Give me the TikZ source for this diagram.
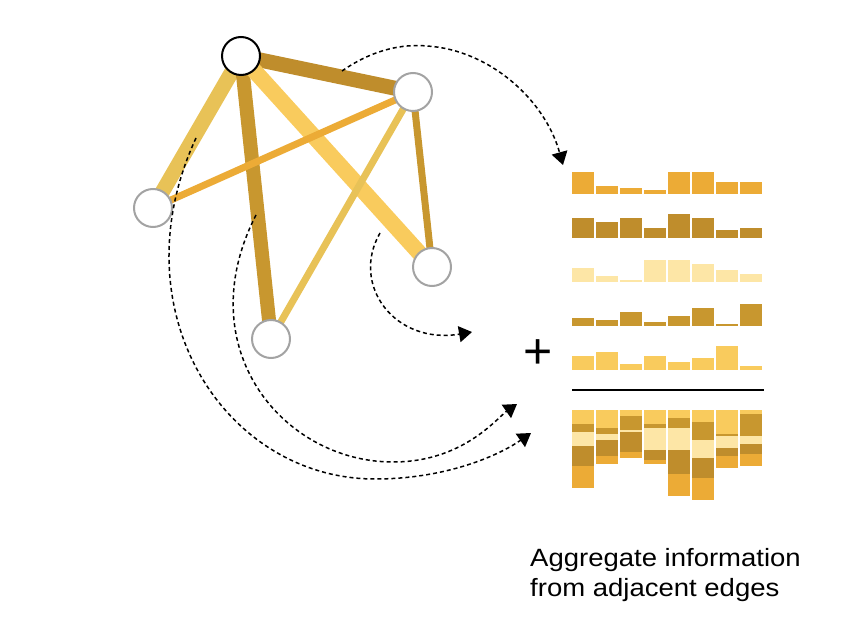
\documentclass[tikz,border=0pt]{standalone}
\usepackage{fontspec}
\setmainfont{Liberation Sans}
\newfontfamily\aggfont[FakeStretch=1.1]{Liberation Sans}
\usepackage{tikz}
\usetikzlibrary{arrows.meta,backgrounds}
\definecolor{amber}{HTML}{ECAB36}
\definecolor{bronze}{HTML}{BF8D2C}
\definecolor{cream}{HTML}{FDE6A6}
\definecolor{ochre}{HTML}{C8972F}
\definecolor{butter}{HTML}{F9CB5D}
\definecolor{mustard}{HTML}{E8C257}
\definecolor{ringgray}{HTML}{A3A3A3}

\begin{document}
\begin{tikzpicture}[
  x=1pt, y=-1pt,
  vertex/.style={circle, draw=ringgray, line width=2pt, fill=white,
                 minimum size=38pt, inner sep=0pt},
  focus/.style={vertex, draw=black},
  bond/.style={line width=#1},
  flow/.style={-{Triangle[length=13pt,width=16pt]}, line width=1.5pt,
               dash pattern=on 4pt off 3pt}
]
  \useasboundingbox (0,0) rectangle (858,628);

  % graph
  \node[focus] (a) at (241,56) {};
  \node[vertex] (b) at (413,92) {};
  \node[vertex] (c) at (153,208) {};
  \node[vertex] (d) at (271,339) {};
  \node[vertex] (e) at (432,267) {};
  \begin{pgfonlayer}{background}
    \draw[bond=15pt, bronze] (a.center) -- (b.center);
    \draw[bond=15pt, mustard] (a.center) -- (c.center);
    \draw[bond=14pt, ochre] (a.center) -- (d.center);
    \draw[bond=16pt, butter] (a.center) -- (e.center);
    \draw[bond=7pt, amber] (b.center) -- (c.center);
    \draw[bond=7pt, mustard] (b.center) -- (d.center);
    \draw[bond=7pt, ochre] (b.center) -- (e.center);
  \end{pgfonlayer}

  % edge features, one row per edge, and their sum
  \foreach \ra/\rb/\rc/\rd/\re [count=\i from 0] in {22/20/14/8/14, 8/16/6/6/18,
      6/20/2/14/6, 4/10/22/4/14, 22/24/22/10/8, 22/20/18/18/12,
      12/8/12/2/24, 12/10/8/22/4}{
    \fill[amber]  (572+24*\i,194) rectangle ++(22,-\ra);
    \fill[bronze] (572+24*\i,238) rectangle ++(22,-\rb);
    \fill[cream]  (572+24*\i,282) rectangle ++(22,-\rc);
    \fill[ochre]  (572+24*\i,326) rectangle ++(22,-\rd);
    \fill[butter] (572+24*\i,370) rectangle ++(22,-\re);
    \fill[butter] (572+24*\i,410) rectangle ++(22,\re);
    \fill[ochre]  (572+24*\i,410+\re) rectangle ++(22,\rd);
    \fill[cream]  (572+24*\i,410+\re+\rd) rectangle ++(22,\rc);
    \fill[bronze] (572+24*\i,410+\re+\rd+\rc) rectangle ++(22,\rb);
    \fill[amber]  (572+24*\i,410+\re+\rd+\rc+\rb) rectangle ++(22,\ra);
  }
  \draw[line width=2pt] (572,390) -- (764,390);
  \node[font=\fontsize{50}{50}\selectfont, inner sep=0pt] (plus) at (538,354) {+};

  % messages
  \coordinate (s1) at (342,71);  \coordinate (t1) at (563,165);
  \coordinate (s2) at (380,233); \coordinate (t2) at (472,332);
  \coordinate (s3) at (256,215); \coordinate (t3) at (517,404);
  \coordinate (s4) at (196,138); \coordinate (t4) at (531,433);
  \draw[flow] (s1) .. controls (375,48) and (405,44) .. (427,46)
    .. controls (490,50) and (545,100) .. (t1);
  \draw[flow] (s2) .. controls (350,285) and (395,345) .. (t2);
  \draw[flow] (s3) .. controls (188,348) and (283,462) .. (393,462)
    .. controls (463,462) and (497,418) .. (t3);
  \draw[flow] (s4) .. controls (116,311) and (225,479) .. (375,479)
    .. controls (445,479) and (498,456) .. (t4);

  \node[font=\aggfont\fontsize{25}{30}\selectfont, align=left,
        anchor=north west, inner sep=0pt] (note) at (530,548.5)
    {Aggregate information\\from adjacent edges};
\end{tikzpicture}
\end{document}
